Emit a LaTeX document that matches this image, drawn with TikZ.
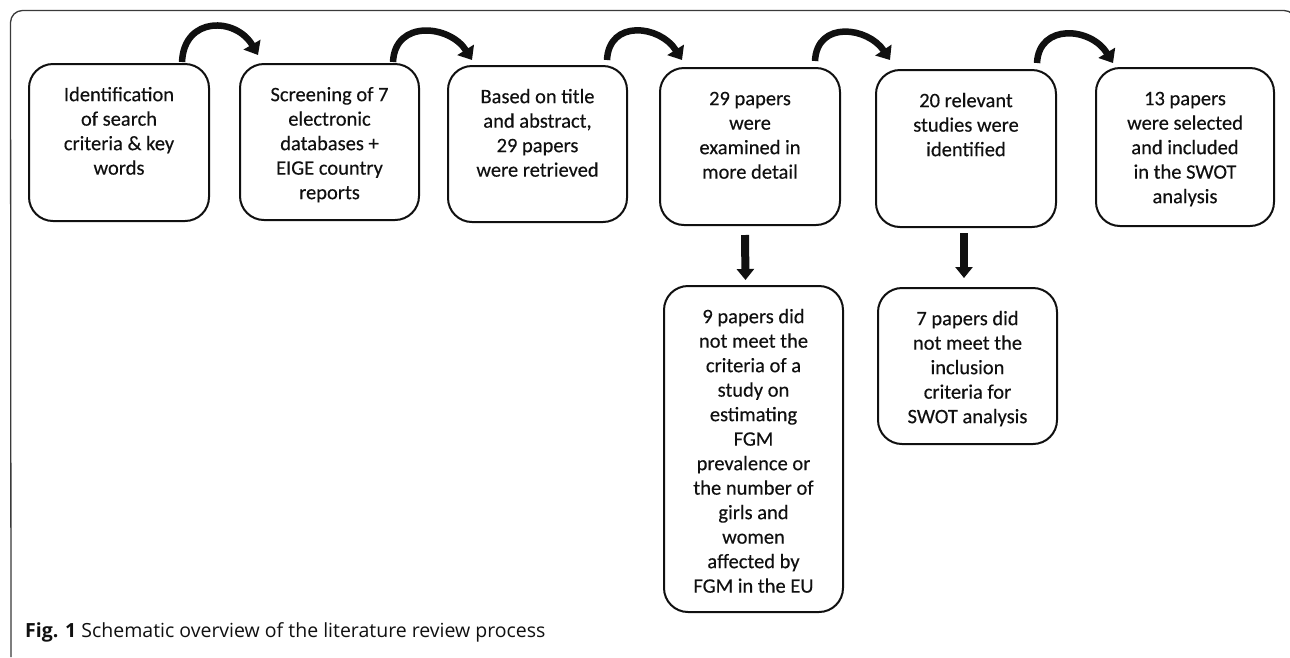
\documentclass[tikz,border=0pt]{standalone}
\usepackage{fontspec}
\setmainfont{Carlito}
\newfontfamily\capfont{Open Sans}
\usetikzlibrary{arrows.meta,calc}
\definecolor{ink}{HTML}{101010}
\definecolor{framec}{HTML}{3A3A3A}
\newcommand\boxtxt[2]{\parbox[c][#1pt][t]{168pt}{\centering\fontsize{20.5}{24.5}\selectfont\addfontfeatures{FakeBold=0.25}\vspace{20pt}\strut #2}}
\begin{document}
\begin{tikzpicture}[x=1pt,y=-1pt,
  box/.style={draw=ink, line width=2pt, rounded corners=24pt, inner sep=0pt, text=ink},
  curvarrow/.style={draw=ink, line width=6.5pt, -{Triangle[width=19pt,length=12pt]}},
  downarrow/.style={draw=ink, line width=8pt, -{Triangle[width=17pt,length=11pt]}},
  framel/.style={draw=framec, line width=1.3pt, rounded corners=12pt}]
\useasboundingbox[fill=white] (0,0) rectangle (1290,657);
\draw[framel] (11,657) -- (10.5,10.5) -- (1296,10.5) -- (1296,80);

\node[box, minimum width=180pt, minimum height=157pt] (b1) at (119,142.5)
  {\boxtxt{157}{Identification\\of search\\criteria \& key\\words}};
\node[box, minimum width=179pt, minimum height=156pt] (b2) at (329.5,142)
  {\boxtxt{156}{Screening of 7\\electronic\\databases +\\EIGE country\\reports}};
\node[box, minimum width=179pt, minimum height=156pt] (b3) at (537.5,144)
  {\boxtxt{156}{Based on title\\and abstract,\\29 papers\\were retrieved}};
\node[box, minimum width=180pt, minimum height=157pt] (b4) at (750,146.5)
  {\boxtxt{157}{29 papers\\were\\examined in\\more detail}};
\node[box, minimum width=180pt, minimum height=157pt] (b5) at (966,148.5)
  {\boxtxt{157}{20 relevant\\studies were\\identified}};
\node[box, minimum width=178pt, minimum height=158pt] (b6) at (1185,147)
  {\boxtxt{158}{13 papers\\were selected\\and included\\in the SWOT\\analysis}};
\node[box, minimum width=179pt, minimum height=326pt] (b7) at (753.5,449)
  {\boxtxt{326}{9 papers did\\not meet the\\criteria of a\\study on\\estimating\\FGM\\prevalence or\\the number of\\girls and\\women\\affected by\\FGM in the EU}};
\node[box, minimum width=179pt, minimum height=156pt] (b8) at (967.5,366)
  {\boxtxt{156}{7 papers did\\not meet the\\inclusion\\criteria for\\SWOT analysis}};

\draw[curvarrow] ($(b1.north east)+(-28,-1)$) .. controls +(2,-46) and +(-22,-38) .. ($(b2.north west)+(19,-8)$);
\draw[curvarrow] ($(b2.north east)+(-27,-1)$) .. controls +(2,-43) and +(-22,-35) .. ($(b3.north west)+(25,-5)$);
\draw[curvarrow] ($(b3.north east)+(-21,-5)$) .. controls +(2,-41) and +(-22,-35) .. ($(b4.north west)+(23,-7)$);
\draw[curvarrow] ($(b4.north east)+(-26,-6)$) .. controls +(2,-41) and +(-22,-33) .. ($(b5.north west)+(15,-9)$);
\draw[curvarrow] ($(b5.north east)+(-20,-6)$) .. controls +(2,-40) and +(-22,-36) .. ($(b6.north west)+(18,-4)$);

\draw[downarrow] ($(b4.south)+(-5,9)$) -- ($(b7.north)+(-8,-5)$);
\draw[downarrow] ($(b5.south)+(-2,5)$) -- ($(b8.north)+(-3.5,-9)$);

\node[anchor=base west, inner sep=0pt, text=ink] (cap) at (25,637)
  {\capfont\fontsize{19.5}{23}\selectfont\textbf{Fig. 1} Schematic overview of the literature review process};
\end{tikzpicture}
\end{document}
